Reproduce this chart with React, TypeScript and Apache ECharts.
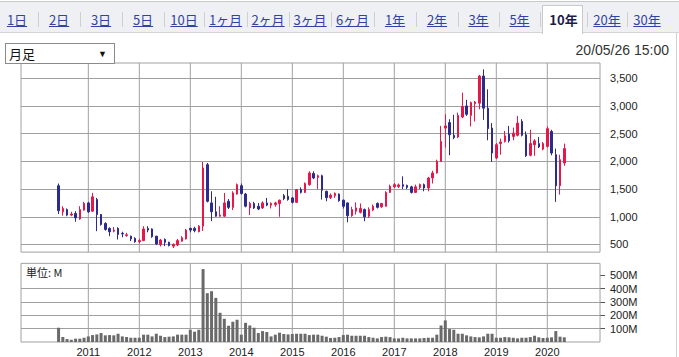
import React, { useEffect, useRef } from 'react';
import * as echarts from 'echarts';

// ---- data ----
const baseYear = 2011; // month index 0 = Jan 2011
const firstYear = 2010;
const firstMonth = 6; // first candle: June 2010

const opens = [
  1560, 1090, 1130, 1030, 1060, 960, 1120,
  1250, 1100, 1310, 1040, 880, 790, 740, 790, 700, 660, 650, 610,
  550, 570, 790, 780, 650, 500, 590, 540, 470, 490, 560, 600,
  790, 790, 730, 830, 1940, 1250, 1090, 1010, 1010, 1280, 1170, 1410,
  1560, 1410, 1160, 1240, 1190, 1160, 1250, 1210, 1220, 1240, 1380, 1370,
  1340, 1260, 1490, 1440, 1580, 1780, 1710, 1740, 1460, 1345, 1380, 1410,
  1300, 1250, 1020, 1100, 1080, 1130, 1010, 1120, 1240, 1180, 1190, 1440,
  1540, 1545, 1580, 1565, 1540, 1440, 1530, 1580, 1520, 1700, 1790, 2000,
  2600, 2700, 2470, 2440, 2800, 3000, 2830, 3040, 3050, 3540, 2960, 2600,
  2060, 2320, 2360, 2490, 2450, 2470, 2720, 2480, 2110, 2300, 2320, 2220,
  2270, 2540, 2120, 1560, 1970,
];
const closes = [
  1110, 1150, 1030, 1050, 980, 1130, 1240,
  1090, 1360, 1040, 860, 770, 730, 760, 680, 690, 675, 600, 550,
  570, 780, 760, 640, 510, 580, 540, 480, 500, 570, 620, 760,
  760, 750, 830, 1880, 1280, 1090, 1010, 1030, 1250, 1170, 1430, 1580,
  1420, 1190, 1240, 1160, 1140, 1250, 1210, 1240, 1250, 1300, 1330, 1310,
  1260, 1490, 1440, 1600, 1790, 1700, 1740, 1480, 1345, 1390, 1420, 1290,
  1190, 1020, 1130, 1160, 1150, 1000, 1130, 1190, 1170, 1240, 1440, 1550,
  1580, 1575, 1550, 1530, 1440, 1540, 1580, 1520, 1700, 1790, 2000, 2360,
  2640, 2480, 2430, 2830, 2990, 2850, 3060, 3070, 3540, 2960, 2590, 2150,
  2300, 2350, 2460, 2370, 2510, 2690, 2470, 2100, 2320, 2370, 2260, 2320,
  2590, 2150, 1560, 2030, 2230,
];
const lows = [
  1050, 1020, 1010, 1010, 910, 945, 1110,
  1070, 1090, 740, 840, 750, 650, 720, 590, 630, 640, 560, 530,
  520, 560, 720, 620, 490, 465, 470, 465, 435, 470, 550, 590,
  720, 720, 720, 744, 1260, 920, 1000, 1000, 1000, 1140, 1120, 1400,
  1400, 1170, 1030, 1140, 1120, 1140, 1190, 1150, 1180, 1000, 1300, 1290,
  1240, 1250, 1420, 1430, 1560, 1680, 1500, 1310, 1280, 1320, 1340, 1270,
  1150, 900, 1000, 1040, 1060, 920, 980, 1100, 1150, 1160, 1180, 1430,
  1520, 1520, 1500, 1500, 1420, 1430, 1500, 1460, 1460, 1600, 1780, 1990,
  2250, 2110, 2400, 2420, 2780, 2820, 2630, 2720, 2940, 2750, 2380, 1990,
  2040, 2120, 2340, 2340, 2380, 2450, 2450, 2080, 2090, 2100, 2240, 2200,
  2250, 2110, 1270, 1400, 1920,
];
const highs = [
  1600, 1190, 1150, 1090, 1100, 1190, 1270,
  1270, 1430, 1340, 1050, 900, 810, 815, 810, 730, 710, 660, 630,
  600, 830, 830, 790, 655, 600, 610, 550, 520, 600, 650, 780,
  805, 820, 850, 1990, 1970, 1460, 1360, 1190, 1430, 1320, 1460, 1600,
  1600, 1430, 1270, 1270, 1250, 1280, 1340, 1260, 1270, 1310, 1410, 1500,
  1360, 1500, 1530, 1620, 1820, 1820, 1760, 1760, 1470, 1420, 1440, 1420,
  1310, 1260, 1180, 1260, 1240, 1150, 1170, 1220, 1260, 1250, 1460, 1580,
  1610, 1600, 1730, 1580, 1560, 1580, 1600, 1600, 1720, 1830, 2030, 2640,
  2850, 2760, 2840, 2880, 3240, 3110, 3080, 3090, 3560, 3660, 3300, 2690,
  2330, 2410, 2550, 2640, 2610, 2820, 2760, 2540, 2570, 2400, 2440, 2350,
  2630, 2570, 2230, 2120, 2320,
];
// volume, millions of shares
const volumes = [
  107, 37, 22, 17, 25, 25, 32,
  42, 52, 57, 67, 50, 52, 50, 62, 42, 37, 32, 32,
  32, 55, 55, 42, 62, 47, 37, 40, 42, 55, 55, 55,
  92, 77, 92, 547, 366, 381, 331, 219, 174, 122, 152, 167,
  55, 144, 124, 107, 67, 82, 75, 42, 55, 70, 60, 57,
  60, 62, 62, 62, 52, 55, 55, 47, 40, 30, 32, 37,
  52, 55, 47, 47, 47, 47, 37, 32, 27, 37, 40, 37,
  27, 27, 32, 27, 27, 27, 27, 30, 32, 32, 55, 124,
  162, 97, 92, 62, 62, 50, 42, 37, 35, 42, 62, 62,
  32, 32, 37, 35, 32, 27, 32, 32, 37, 47, 35, 30,
  32, 35, 82, 40, 35,
];

const yearLabels = ['2011', '2012', '2013', '2014', '2015', '2016', '2017', '2018', '2019', '2020'];
const priceTicks = [500, 1000, 1500, 2000, 2500, 3000, 3500];
const volumeTicks = [100, 200, 300, 400, 500];
const volumeGridValues = [100, 200, 300, 400];

const tabLabels = ['1日', '2日', '3日', '5日', '10日', '1ヶ月', '2ヶ月', '3ヶ月', '6ヶ月', '1年', '2年', '3年', '5年', '10年', '20年', '30年'];
const selectedTab = '10年';
const candleType = '月足';
const timestamp = '20/05/26 15:00';
const volumeUnit = '単位: M';

// ---- layout ----
const tabEdges = [-4, 38, 80, 122, 164, 204, 247, 289, 331, 374, 416, 458, 499, 540, 587, 627, 667];
const RED = '#e6174a';
const BLUE = '#2c2a8e';
const GRID = '#a0a0a0';
const LABEL_FONT = '"Liberation Sans", Arial, sans-serif';
const CJK_FONT = '"Noto Sans CJK JP", "Noto Sans", sans-serif';

const firstIdx = (firstYear - baseYear) * 12 + (firstMonth - 1);
const yearPos = yearLabels.map((y) => (Number(y) - baseYear) * 12);

export default function App() {
  const ref = useRef<HTMLDivElement>(null);

  useEffect(() => {
    document.body.style.margin = '0';
    if (!ref.current) return;
    const chart = echarts.init(ref.current, undefined, { renderer: 'svg' });

    const candleData = opens.map((o, i) => [firstIdx + i, o, closes[i], lows[i], highs[i]]);
    const volData = volumes.map((v, i) => [firstIdx + i, v]);

    // one shared plot area; the price pane sits in its upper part, the volume pane in its lower part
    const xMin = -15.84;
    const xMax = 120.4;
    const pricePaneMin = 362; // bottom edge of the price pane
    const pricePaneMax = 3775; // top edge of the price pane
    const priceAxisMin = -1260; // price axis extended down through the volume pane
    const volPaneMax = 590; // top edge of the volume pane
    const volAxisMax = 2093; // volume axis extended up through the price pane

    const gridLineStyle = { color: GRID, width: 1, type: 'solid' as const };
    const markBase = {
      silent: true,
      symbol: ['none', 'none'],
      label: { show: false },
      lineStyle: gridLineStyle,
      emphasis: { disabled: true },
      animation: false,
      z: 1,
    };

    // frame + vertical year lines of one pane, drawn through that pane's axes
    const paneSeries = (yAxisIndex: number, lo: number, hi: number) => ({
      type: 'custom',
      xAxisIndex: 0,
      yAxisIndex,
      data: yearPos.map((x) => [x]),
      encode: { x: 0 },
      z: 2,
      clip: false,
      silent: true,
      renderItem: (params: any, api: any) => {
        const x = api.value(0);
        const p0 = api.coord([x, lo]);
        const p1 = api.coord([x, hi]);
        const children: any[] = [
          {
            type: 'rect',
            shape: { x: p0[0] - 0.5, y: p1[1], width: 1, height: p0[1] - p1[1] },
            style: { fill: GRID, stroke: 'none' },
          },
        ];
        if (params.dataIndex === 0) {
          const a = api.coord([xMin, hi]);
          const b = api.coord([xMax, lo]);
          children.push({
            type: 'rect',
            shape: { x: a[0], y: a[1], width: b[0] - a[0], height: b[1] - a[1] },
            style: { fill: 'none', stroke: GRID, lineWidth: 1 },
          });
        }
        return { type: 'group', children };
      },
    });

    chart.setOption({
      animation: false,
      grid: [{ left: 21, top: 63, width: 579, height: 280.3, show: false }],
      xAxis: [
        {
          type: 'value', gridIndex: 0, min: xMin, max: xMax,
          axisLine: { show: false }, axisTick: { show: false }, splitLine: { show: false },
          axisLabel: {
            show: true,
            customValues: yearPos,
            formatter: (v: number) => yearLabels[Math.round(v / 12)] ?? '',
            fontSize: 11, color: '#222', fontFamily: LABEL_FONT, margin: 4,
          },
        },
      ],
      yAxis: [
        {
          type: 'value', gridIndex: 0, position: 'right', min: priceAxisMin, max: pricePaneMax,
          axisLine: { show: false }, splitLine: { show: false },
          axisTick: { show: true, length: 5, lineStyle: { color: '#555' }, customValues: priceTicks },
          axisLabel: {
            customValues: priceTicks,
            formatter: (v: number) => v.toLocaleString('en-US'),
            fontSize: 11, color: '#222', fontFamily: LABEL_FONT, margin: 10,
          },
        },
        {
          type: 'value', gridIndex: 0, position: 'right', offset: 0, min: 0, max: volAxisMax,
          axisLine: { show: false }, splitLine: { show: false },
          axisTick: { show: true, length: 5, lineStyle: { color: '#555' }, customValues: volumeTicks },
          axisLabel: {
            customValues: volumeTicks,
            formatter: (v: number) => `${v}M`,
            fontSize: 11, color: '#222', fontFamily: LABEL_FONT, margin: 10,
          },
        },
      ],
      graphic: [
        {
          type: 'text', left: 26, top: 266,
          style: { text: volumeUnit, fontSize: 11, fill: '#222', fontFamily: CJK_FONT },
          z: 10,
        },
      ],
      series: [
        paneSeries(0, pricePaneMin, pricePaneMax),
        paneSeries(1, 0, volPaneMax),
        {
          type: 'candlestick',
          xAxisIndex: 0, yAxisIndex: 0,
          data: candleData,
          encode: { x: 0, y: [1, 2, 3, 4] },
          barWidth: 2,
          itemStyle: { color: RED, color0: BLUE, borderColor: RED, borderColor0: BLUE, borderWidth: 1 },
          z: 4,
          markLine: {
            ...markBase,
            data: priceTicks.map((y) => ({ yAxis: y })),
          },
        },
        {
          type: 'bar',
          xAxisIndex: 0, yAxisIndex: 1,
          data: volData,
          barWidth: 3,
          itemStyle: { color: '#6a6a6a' },
          z: 4,
          markLine: {
            ...markBase,
            data: volumeGridValues.map((y) => ({ yAxis: y })),
          },
        },
      ],
    });

    return () => chart.dispose();
  }, []);

  return (
    <div style={{ position: 'fixed', left: 0, top: 0, width: 679, height: 357, background: '#fff', overflow: 'hidden' }}>
      <div ref={ref} style={{ position: 'absolute', left: 0, top: 0, width: 679, height: 357 }} />
      {/* tab bar */}
      <div style={{ position: 'absolute', left: 0, top: 1, width: 679, height: 32, background: '#eef0f4', borderTop: '1px solid #c9c9c9', borderBottom: '1px solid #d4d4d4', boxSizing: 'border-box' }} />
      {tabEdges.slice(1, -1).map((x, i) => (
        <div key={'s' + i} style={{ position: 'absolute', left: x, top: 12, width: 1, height: 15, background: '#cfcfcf' }} />
      ))}
      <div style={{ position: 'absolute', left: tabEdges[tabLabels.indexOf(selectedTab)] + 2, top: 5, width: 41, height: 29, background: '#fff', border: '1px solid #c9c9c9', borderBottom: 'none', boxSizing: 'border-box' }} />
      {tabLabels.map((t, i) => {
        const sel = t === selectedTab;
        const l = tabEdges[i];
        const r = tabEdges[i + 1];
        return (
          <div key={t} style={{
            position: 'absolute', left: l, width: r - l, top: 11, height: 18, lineHeight: '18px', textAlign: 'center',
            fontFamily: CJK_FONT, fontSize: 13, color: sel ? '#1c1c4c' : '#3242a4',
            fontWeight: sel ? 700 : 400, textDecoration: sel ? 'none' : 'underline', whiteSpace: 'nowrap',
          }}>{t}</div>
        );
      })}
      {/* right border */}
      <div style={{ position: 'absolute', left: 676, top: 33, width: 1, height: 324, background: '#d0d0d0' }} />
      {/* dropdown */}
      <div style={{ position: 'absolute', left: 5, top: 43, width: 110, height: 21, border: '1px solid #8a8a8a', background: '#fff', boxSizing: 'border-box' }}>
        <span style={{ position: 'absolute', left: 3, top: 1, fontFamily: CJK_FONT, fontSize: 13, lineHeight: '18px', color: '#111' }}>{candleType}</span>
        <span style={{ position: 'absolute', left: 92, top: 1, fontFamily: LABEL_FONT, fontSize: 9, lineHeight: '18px', color: '#111' }}>▼</span>
      </div>
      {/* timestamp */}
      <div style={{ position: 'absolute', right: 10, top: 41, fontFamily: LABEL_FONT, fontSize: 14, lineHeight: '18px', color: '#333', whiteSpace: 'nowrap' }}>{timestamp}</div>
    </div>
  );
}
